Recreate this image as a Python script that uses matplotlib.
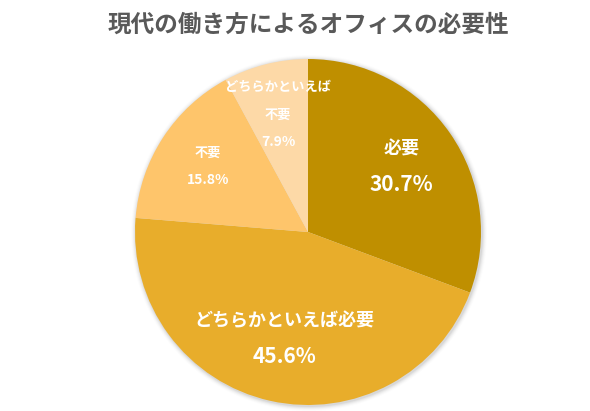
import numpy as np
import matplotlib
matplotlib.use("Agg")
import matplotlib.pyplot as plt
from matplotlib.patches import Circle

plt.rcParams['font.family'] = ['Noto Sans CJK JP', 'DejaVu Sans']

# data
title = "現代の働き方によるオフィスの必要性"
categories = ["必要", "どちらかといえば必要", "不要", "どちらかといえば\n不要"]
shares = [30.7, 45.6, 15.8, 7.9]
colors = ["#BF8F00", "#E8AD2B", "#FEC56B", "#FDD9A7"]

# layout (pixels, figure is 590x411)
W, H = 590, 411
cx, cy, R = 308, H - 232, 173
label_frac = [0.66, 0.63, 0.69, 0.70]
name_size = [13, 13, 9.5, 9.5]
value_size = [15, 15, 10, 10]
step = [35, 36, 27, 27.5]   # line distance inside a label (px)

fig = plt.figure(figsize=(W / 100, H / 100), dpi=100)
ax = fig.add_axes([0, 0, 1, 1])

# soft shadow around the pie
for i, a in enumerate([0.05, 0.04, 0.03, 0.02, 0.012]):
    ax.add_patch(Circle((cx + 1, cy - 1), R + 1 + i, color="#000000", alpha=a, lw=0, zorder=0))

wedges, _ = ax.pie(shares, colors=colors, startangle=90, counterclock=False,
                   center=(cx, cy), radius=R, wedgeprops=dict(linewidth=0),
                   frame=True)

for w, name, val, f, ns, vs, s in zip(wedges, categories, shares, label_frac,
                                      name_size, value_size, step):
    mid = np.deg2rad((w.theta1 + w.theta2) / 2)
    x = cx + f * R * np.cos(mid)
    y = cy + f * R * np.sin(mid)
    lines = name.split("\n") + [f"{val:.1f}%"]
    sizes = [ns] * (len(lines) - 1) + [vs]
    top = y + s * (len(lines) - 1) / 2
    for k, (txt, fs) in enumerate(zip(lines, sizes)):
        ax.text(x, top - k * s, txt, ha="center", va="center", fontsize=fs,
                fontweight="bold", color="white")

ax.text(cx, H - 25, title, ha="center", va="center", fontsize=17, fontweight="bold",
        color="#595959")

ax.set_xlim(0, W)
ax.set_ylim(0, H)
ax.set_aspect("equal")
ax.axis("off")

fig.savefig("out.png", dpi=100, facecolor="white")
